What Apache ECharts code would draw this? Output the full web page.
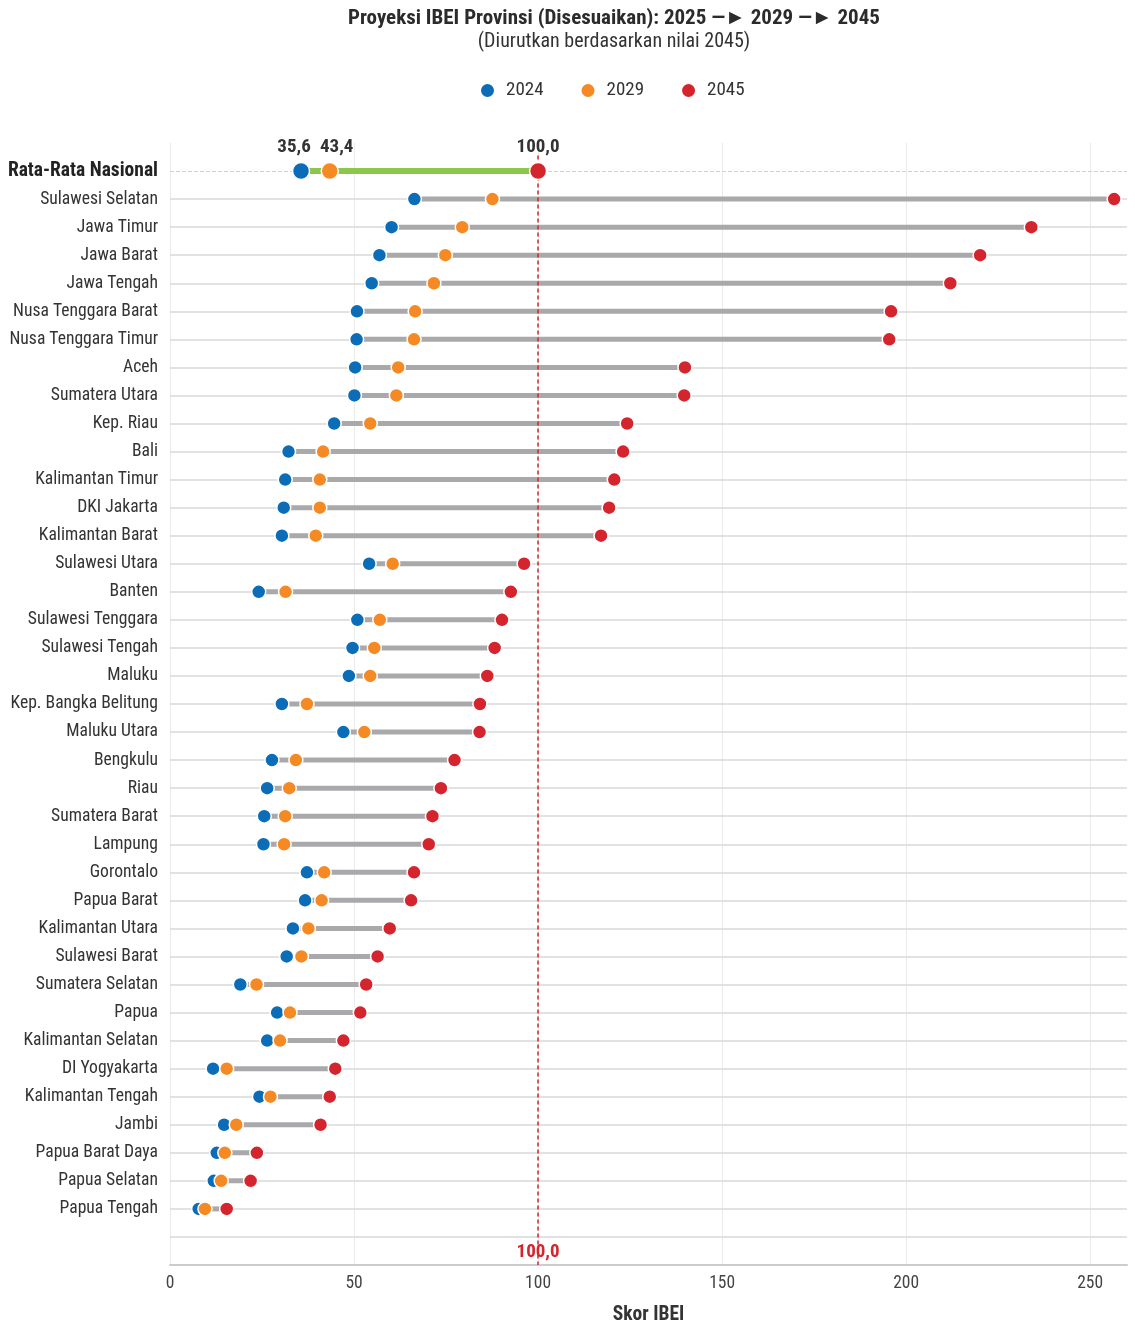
<!DOCTYPE html>
<html>
<head>
<meta charset="utf-8">
<script src="https://cdn.jsdelivr.net/npm/echarts@6/dist/echarts.min.js"></script>
<style>
html, body { margin: 0; padding: 0; background: #fff; }
#main { width: 1135px; height: 1326px; }
</style>
</head>
<body>
<div id="main"></div>
<script>
// data (sorted by 2045 value)
var provinces = ['Sulawesi Selatan', 'Jawa Timur', 'Jawa Barat', 'Jawa Tengah', 'Nusa Tenggara Barat',
    'Nusa Tenggara Timur', 'Aceh', 'Sumatera Utara', 'Kep. Riau', 'Bali', 'Kalimantan Timur', 'DKI Jakarta',
    'Kalimantan Barat', 'Sulawesi Utara', 'Banten', 'Sulawesi Tenggara', 'Sulawesi Tengah', 'Maluku',
    'Kep. Bangka Belitung', 'Maluku Utara', 'Bengkulu', 'Riau', 'Sumatera Barat', 'Lampung', 'Gorontalo',
    'Papua Barat', 'Kalimantan Utara', 'Sulawesi Barat', 'Sumatera Selatan', 'Papua', 'Kalimantan Selatan',
    'DI Yogyakarta', 'Kalimantan Tengah', 'Jambi', 'Papua Barat Daya', 'Papua Selatan', 'Papua Tengah'];
var val2024 = [66.4, 60.2, 56.9, 54.8, 50.8, 50.7, 50.3, 50.1, 44.6, 32.2, 31.3, 30.9, 30.4, 54.1, 24.1,
    50.9, 49.6, 48.6, 30.4, 47.1, 27.7, 26.4, 25.6, 25.4, 37.2, 36.7, 33.4, 31.7, 19.1, 29.1, 26.4,
    11.7, 24.3, 14.7, 12.7, 11.9, 7.8];
var val2029 = [87.6, 79.4, 74.8, 71.7, 66.6, 66.3, 62.0, 61.5, 54.4, 41.6, 40.7, 40.7, 39.6, 60.5, 31.4,
    57.0, 55.5, 54.4, 37.2, 52.8, 34.2, 32.4, 31.3, 31.0, 41.9, 41.2, 37.6, 35.7, 23.5, 32.6, 29.9,
    15.4, 27.3, 18.0, 14.9, 13.9, 9.5];
var val2045 = [256.5, 234.0, 220.1, 212.0, 195.9, 195.4, 139.9, 139.7, 124.2, 123.1, 120.7, 119.3, 117.1,
    96.2, 92.6, 90.2, 88.2, 86.2, 84.2, 84.1, 77.3, 73.6, 71.3, 70.3, 66.3, 65.5, 59.7, 56.4, 53.3,
    51.7, 47.1, 44.9, 43.4, 40.9, 23.6, 21.9, 15.4];
var nasionalLabel = 'Rata-Rata Nasional';
var nasionalVals = [35.6, 43.4, 100.0];   // 2024, 2029, 2045
var xTicks = [0, 50, 100, 150, 200, 250];

var FONT = "'Roboto Condensed', 'Liberation Sans Narrow', Roboto, sans-serif";
var C_BLUE = '#0b6db7', C_ORANGE = '#f58a24', C_RED = '#d4252e';

// row 0 = national average, rows 1..37 = provinces, last row empty
var rows = [nasionalLabel].concat(provinces, ['']);
var fmt = function (v) { return v.toFixed(1).replace('.', ','); };

function pointData(natVal, vals, labelOffset) {
    var out = [{
        value: [natVal, 0],
        symbolSize: 17,
        label: { show: true, position: 'top', distance: 5, offset: [labelOffset, 0],
            formatter: function (p) { return fmt(p.value[0]); },
            fontFamily: FONT, fontWeight: 'bold', fontSize: 19, color: '#333' }
    }];
    vals.forEach(function (v, i) { out.push([v, i + 1]); });
    return out;
}

var segData = [[nasionalVals[0], nasionalVals[2], 0]];
provinces.forEach(function (p, i) { segData.push([val2024[i], val2045[i], i + 1]); });

var rowLines = [{ yAxis: 0, lineStyle: { color: '#d0d0d0', type: 'dashed', width: 1 } }];
for (var r = 1; r < rows.length; r++) {
    rowLines.push({ yAxis: r, lineStyle: { color: '#d8d8d8', type: 'solid', width: 1.5 } });
}

var myChart = echarts.init(document.getElementById('main'));
option = {
    backgroundColor: '#fff',
    animation: false,
    title: {
        text: 'Proyeksi IBEI Provinsi (Disesuaikan): 2025 \u2014\u25BA 2029 \u2014\u25BA 2045',
        subtext: '(Diurutkan berdasarkan nilai 2045)',
        left: 609,
        top: 3,
        textAlign: 'center',
        itemGap: 3,
        textStyle: { fontFamily: FONT, fontWeight: 'bold', fontSize: 21, color: '#2b2b2b' },
        subtextStyle: { fontFamily: FONT, fontSize: 20, color: '#333' }
    },
    legend: {
        data: ['2024', '2029', '2045'],
        top: 76,
        left: 474,
        icon: 'circle',
        itemWidth: 15,
        itemHeight: 15,
        itemGap: 36,
        textStyle: { fontFamily: FONT, fontSize: 19, color: '#333', padding: [0, 0, 0, 6] }
    },
    grid: { left: 170, right: 8, top: 143, bottom: 61, outerBoundsMode: 'none' },
    xAxis: {
        type: 'value',
        min: 0,
        max: 260,
        interval: 50,
        name: 'Skor IBEI',
        nameLocation: 'middle',
        nameGap: 40,
        nameTextStyle: { fontFamily: FONT, fontWeight: 'bold', fontSize: 19.5, color: '#333' },
        axisLine: { show: true, onZero: false, lineStyle: { color: '#cccccc', width: 2 } },
        axisTick: { show: false },
        axisLabel: {
            fontFamily: FONT, fontSize: 17.5, color: '#444', margin: 10, showMaxLabel: false,
            formatter: function (v) { return xTicks.indexOf(v) >= 0 ? String(v) : ''; }
        },
        splitLine: { show: true, showMaxLine: false, lineStyle: { color: '#ebebeb', width: 1 } }
    },
    yAxis: {
        type: 'value',
        inverse: true,
        min: -1,
        max: 39,
        interval: 1,
        axisLine: { show: false, onZero: false },
        axisTick: { show: false },
        splitLine: { show: false },
        axisLabel: {
            margin: 12,
            fontFamily: FONT,
            fontSize: 17.6,
            color: '#333',
            formatter: function (v) {
                if (v === 0) return '{b|' + nasionalLabel + '}';
                return rows[v] || '';
            },
            rich: { b: { fontFamily: FONT, fontWeight: 'bold', fontSize: 19.5, color: '#222' } }
        }
    },
    series: [
        {
            name: 'rows',
            type: 'line',
            data: [],
            z: 1,
            silent: true,
            markLine: {
                silent: true,
                z: 1,
                symbol: 'none',
                label: { show: false },
                data: rowLines
            }
        },
        {
            name: 'segments',
            type: 'custom',
            z: 2,
            silent: true,
            encode: { x: [0, 1], y: 2 },
            data: segData,
            renderItem: function (params, api) {
                var i = api.value(2);
                var p1 = api.coord([api.value(0), i]);
                var p2 = api.coord([api.value(1), i]);
                return {
                    type: 'line',
                    shape: { x1: p1[0], y1: p1[1], x2: p2[0], y2: p2[1] },
                    style: { stroke: i === 0 ? '#8cc64a' : '#a9a9ab', lineWidth: i === 0 ? 6 : 5 }
                };
            }
        },
        {
            name: 'ref100',
            type: 'line',
            data: [],
            z: 3,
            silent: true,
            markLine: {
                silent: true,
                z: 3,
                symbol: 'none',
                label: { show: false },
                data: [[
                    { coord: [nasionalVals[2], -0.55], lineStyle: { color: C_RED, type: [4, 3], width: 1.5 } },
                    { coord: [nasionalVals[2], 39] }
                ]]
            },
            markPoint: {
                silent: true,
                z: 3,
                data: [{
                    coord: [nasionalVals[2], 38.55],
                    symbol: 'circle',
                    symbolSize: 0,
                    label: { show: true, formatter: fmt(nasionalVals[2]), color: C_RED,
                        fontFamily: FONT, fontWeight: 'bold', fontSize: 19 }
                }]
            }
        },
        {
            name: '2024', type: 'scatter', z: 4, symbolSize: 14,
            itemStyle: { color: C_BLUE, borderColor: '#fff', borderWidth: 1.5, opacity: 1 },
            data: pointData(nasionalVals[0], val2024, -7)
        },
        {
            name: '2029', type: 'scatter', z: 5, symbolSize: 14,
            itemStyle: { color: C_ORANGE, borderColor: '#fff', borderWidth: 1.5, opacity: 1 },
            data: pointData(nasionalVals[1], val2029, 7)
        },
        {
            name: '2045', type: 'scatter', z: 6, symbolSize: 14,
            itemStyle: { color: C_RED, borderColor: '#fff', borderWidth: 1.5, opacity: 1 },
            data: pointData(nasionalVals[2], val2045, 0)
        }
    ]
};

myChart.setOption(option);
</script>
</body>
</html>
